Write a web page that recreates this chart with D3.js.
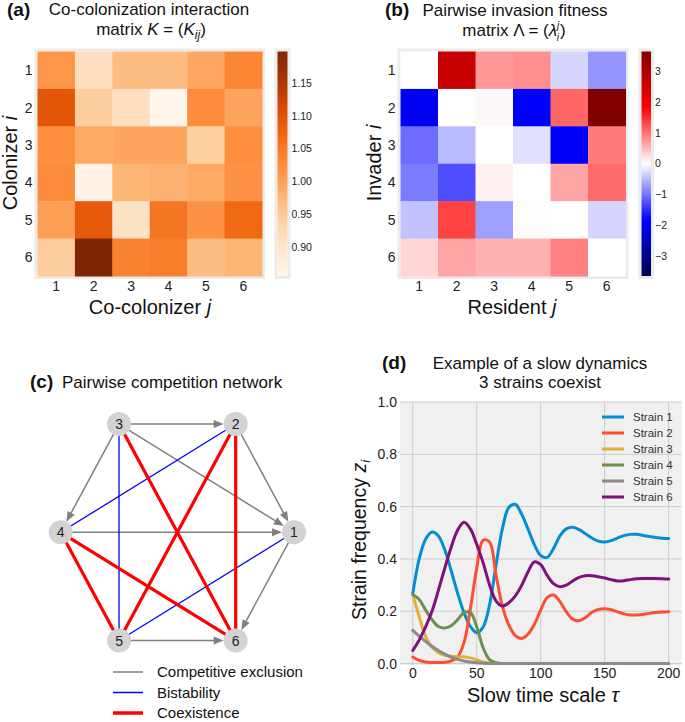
<!DOCTYPE html>
<html>
<head>
<meta charset="utf-8">
<script src="https://cdn.jsdelivr.net/npm/d3@7"></script>
<style>
  body { margin: 0; background: #fff; }
  svg { font-family: "Liberation Sans", Arial, sans-serif; }
</style>
</head>
<body>
<svg id="fig" width="685" height="722"></svg>
<script>
var strains = [1, 2, 3, 4, 5, 6];

// (a) co-colonization interaction matrix, row = colonizer i, col = co-colonizer j
var K = [
  [1.015, 0.914, 0.966, 0.966, 0.993, 1.034],
  [1.095, 0.945, 0.914, 0.856, 1.027, 0.996],
  [1.025, 0.990, 0.995, 0.995, 0.942, 1.025],
  [1.027, 0.865, 0.976, 0.980, 0.990, 1.020],
  [1.003, 1.090, 0.907, 1.054, 1.020, 1.070],
  [0.945, 1.198, 1.040, 1.045, 0.966, 0.976]
];
var kTicks = [0.90, 0.95, 1.00, 1.05, 1.10, 1.15];

// (b) pairwise invasion fitness, row = invader i, col = resident j
var Lambda = [
  [ 0.00,  2.65,  0.74,  0.80, -0.30, -0.76],
  [-1.95,  0.00,  0.05, -1.85,  1.09,  3.65],
  [-1.05, -0.50,  0.00, -0.22, -1.90,  0.94],
  [-0.94, -1.27,  0.10,  0.00,  0.65,  1.05],
  [-0.44,  1.35, -0.69,  0.02,  0.00, -0.30],
  [ 0.30,  0.65,  0.55,  0.55,  0.90,  0.00]
];
var lambdaTicks = [-3, -2, -1, 0, 1, 2, 3];

// (c) legend
var edgeKinds = ["exclusion", "bistability", "coexistence"];
var edgeLabels = ["Competitive exclusion", "Bistability", "Coexistence"];

// (d) slow dynamics
var tau = [0, 5, 10, 15, 20, 25, 30, 35, 40, 45, 50, 55, 60, 65, 70, 75, 80, 85, 90, 95, 100,
  105, 110, 115, 120, 125, 130, 135, 140, 145, 150, 155, 160, 165, 170, 175, 180, 185, 190, 195, 200];
var strain1 = [0.268, 0.40, 0.475, 0.503, 0.488, 0.435, 0.355, 0.27, 0.195, 0.142, 0.118, 0.14, 0.225,
  0.375, 0.515, 0.597, 0.609, 0.572, 0.515, 0.455, 0.413, 0.406, 0.44, 0.488, 0.515, 0.521, 0.512,
  0.496, 0.48, 0.468, 0.465, 0.47, 0.48, 0.489, 0.494, 0.494, 0.49, 0.486, 0.482, 0.479, 0.478];
var strain2 = [0.025, 0.012, 0.006, 0.004, 0.004, 0.005, 0.01, 0.025, 0.08, 0.21, 0.365, 0.472, 0.465,
  0.34, 0.22, 0.148, 0.108, 0.096, 0.112, 0.15, 0.205, 0.252, 0.262, 0.237, 0.198, 0.17, 0.164,
  0.176, 0.196, 0.207, 0.21, 0.206, 0.198, 0.19, 0.186, 0.186, 0.188, 0.192, 0.195, 0.197, 0.198];
var strain3 = [0.264, 0.18, 0.105, 0.062, 0.042, 0.032, 0.028, 0.026, 0.026, 0.022, 0.014, 0.006, 0.002,
  0.0005, 0, 0, 0, 0, 0, 0, 0, 0, 0, 0, 0, 0, 0, 0, 0, 0, 0, 0, 0, 0, 0, 0, 0, 0, 0, 0, 0];
var strain4 = [0.264, 0.245, 0.205, 0.168, 0.142, 0.136, 0.145, 0.168, 0.195, 0.195, 0.14, 0.06, 0.015,
  0.003, 0.0005, 0, 0, 0, 0, 0, 0, 0, 0, 0, 0, 0, 0, 0, 0, 0, 0, 0, 0, 0, 0, 0, 0, 0, 0, 0, 0];
var strain5 = [0.127, 0.105, 0.085, 0.066, 0.05, 0.036, 0.025, 0.016, 0.01, 0.006, 0.003, 0.001, 0,
  0, 0, 0, 0, 0, 0, 0, 0, 0, 0, 0, 0, 0, 0, 0, 0, 0, 0, 0, 0, 0, 0, 0, 0, 0, 0, 0, 0];
var strain6 = [0.05, 0.09, 0.14, 0.2, 0.28, 0.365, 0.445, 0.51, 0.54, 0.515, 0.455, 0.385, 0.3,
  0.24, 0.22, 0.232, 0.258, 0.298, 0.35, 0.389, 0.378, 0.337, 0.306, 0.294, 0.3, 0.316, 0.33,
  0.336, 0.336, 0.332, 0.327, 0.321, 0.316, 0.317, 0.321, 0.324, 0.325, 0.325, 0.325, 0.324, 0.323];
var seriesNames = ["Strain 1", "Strain 2", "Strain 3", "Strain 4", "Strain 5", "Strain 6"];
var seriesValues = [strain1, strain2, strain3, strain4, strain5, strain6];
var tauTicks = [0, 50, 100, 150, 200];
var zTicks = [0.0, 0.2, 0.4, 0.6, 0.8, 1.0];

var colors538 = ["#008fd5", "#fc4f30", "#e5ae38", "#6d904f", "#8b8b8b", "#810f7c"];
var frameColor = "#ebebeb";
var titleSize = 17;

var svg = d3.select("#fig");
var defs = svg.append("defs");

function addText(g, x, y, str, size, opts) {
  opts = opts || {};
  return g.append("text")
    .attr("x", x).attr("y", y)
    .attr("font-size", size)
    .attr("font-weight", opts.bold ? "bold" : null)
    .attr("text-anchor", opts.anchor || "start")
    .attr("fill", opts.fill || "#111")
    .text(str);
}

// heatmap with its colorbar; box = {x0,x1,y0,y1,cbX,cbW}
function heatmap(matrix, color, ticks, box, tickFmt, id) {
  var g = svg.append("g");
  var x = d3.scaleBand().domain(strains).range([box.x0, box.x1]);
  var y = d3.scaleBand().domain(strains).range([box.y0, box.y1]);

  g.append("rect")
    .attr("x", box.x0 - 1.5).attr("y", box.y0 - 1.5)
    .attr("width", box.x1 - box.x0 + 3).attr("height", box.y1 - box.y0 + 3)
    .attr("fill", "none").attr("stroke", frameColor).attr("stroke-width", 3);

  matrix.forEach(function(row, i) {
    g.selectAll(null)
      .data(row)
      .enter().append("rect")
      .attr("x", (d, j) => x(strains[j]))
      .attr("y", y(strains[i]))
      .attr("width", x.bandwidth() + 0.5)
      .attr("height", y.bandwidth() + 0.5)
      .attr("fill", d => color(d));
  });

  g.selectAll(".xt").data(strains).enter().append("text")
    .attr("x", d => x(d) + x.bandwidth() / 2).attr("y", box.y1 + 15)
    .attr("text-anchor", "middle").attr("font-size", 14).attr("fill", "#222")
    .text(d => d);
  g.selectAll(".yt").data(strains).enter().append("text")
    .attr("x", box.x0 - 5).attr("y", d => y(d) + y.bandwidth() / 2)
    .attr("dy", "0.36em")
    .attr("text-anchor", "end").attr("font-size", 14).attr("fill", "#222")
    .text(d => d);

  // colorbar
  var dom = color.domain();
  var lo = dom[0], hi = dom[dom.length - 1];
  var cb = d3.scaleLinear().domain([lo, hi]).range([box.y1, box.y0]);
  var grad = defs.append("linearGradient").attr("id", id)
    .attr("x1", 0).attr("x2", 0).attr("y1", 1).attr("y2", 0);
  d3.range(0, 1.0001, 0.02).forEach(function(f) {
    grad.append("stop").attr("offset", f).attr("stop-color", color(lo + f * (hi - lo)));
  });
  g.append("rect")
    .attr("x", box.cbX - 1.5).attr("y", box.y0 - 1.5)
    .attr("width", box.cbW + 3).attr("height", box.y1 - box.y0 + 3)
    .attr("fill", "none").attr("stroke", frameColor).attr("stroke-width", 3);
  g.append("rect")
    .attr("x", box.cbX).attr("y", box.y0)
    .attr("width", box.cbW).attr("height", box.y1 - box.y0)
    .attr("fill", "url(#" + id + ")");
  g.selectAll(".ct").data(ticks).enter().append("text")
    .attr("x", box.cbX + box.cbW + 4).attr("y", d => cb(d)).attr("dy", "0.35em")
    .attr("font-size", 10.5).attr("fill", "#222")
    .text(tickFmt);
  return g;
}

// ---------- (a) ----------
var kExt = d3.extent(K.flat());
var oranges = d3.scaleLinear()
  .domain(d3.range(9).map(i => kExt[0] + i * (kExt[1] - kExt[0]) / 8))
  .range(d3.schemeOranges[9]);
heatmap(K, oranges, kTicks, {x0: 37.5, x1: 262, y0: 51.5, y1: 276, cbX: 277.5, cbW: 10},
  d3.format(".2f"), "gradK");

addText(svg, 7, 16, "(a)", 19, {bold: true});
addText(svg, 149, 15, "Co-colonization interaction", titleSize, {anchor: "middle"});
var ta = addText(svg, 151, 35, "matrix ", titleSize, {anchor: "middle"});
ta.append("tspan").attr("font-style", "italic").text("K");
ta.append("tspan").text(" = (");
ta.append("tspan").attr("font-style", "italic").text("K");
ta.append("tspan").attr("font-style", "italic").attr("font-size", 12).attr("dy", 4).text("ij");
ta.append("tspan").attr("dy", -4).text(")");

var xa = addText(svg, 150, 314, "Co-colonizer ", 20, {anchor: "middle"});
xa.append("tspan").attr("font-style", "italic").text("j");
var ya = addText(svg, 0, 0, "Colonizer ", 20, {anchor: "middle"})
  .attr("transform", "translate(17,163) rotate(-90)");
ya.append("tspan").attr("font-style", "italic").text("i");

// ---------- (b) ----------
var lMax = d3.max(Lambda.flat(), d => Math.abs(d));
var seismic = d3.scaleLinear()
  .domain([-lMax, -lMax / 2, 0, lMax / 2, lMax])
  .range(["#00004d", "#0000ff", "#ffffff", "#ff0000", "#800000"])
  .clamp(true);
heatmap(Lambda, seismic, lambdaTicks, {x0: 400.5, x1: 625.5, y0: 51.5, y1: 276, cbX: 641.5, cbW: 9.5},
  d => d < 0 ? "\u2212" + Math.abs(d) : d, "gradL");

addText(svg, 385, 16, "(b)", 19, {bold: true});
addText(svg, 515, 16, "Pairwise invasion fitness", titleSize, {anchor: "middle"});
var tb = addText(svg, 514, 36, "matrix \u039b = (", titleSize, {anchor: "middle"});
tb.append("tspan").attr("font-style", "italic").text("\u03bb");
tb.append("tspan").attr("font-style", "italic").attr("font-size", 10).attr("dy", -7).text("j");
tb.append("tspan").attr("font-style", "italic").attr("font-size", 10).attr("dx", -2.5).attr("dy", 12).text("i");
tb.append("tspan").attr("dx", 1).attr("dy", -5).text(")");

var xb = addText(svg, 512, 314, "Resident ", 20, {anchor: "middle"});
xb.append("tspan").attr("font-style", "italic").text("j");
var yb = addText(svg, 0, 0, "Invader ", 20, {anchor: "middle"})
  .attr("transform", "translate(381,163) rotate(-90)");
yb.append("tspan").attr("font-style", "italic").text("i");

// ---------- (c) network built from the signs of Lambda ----------
var edges = [];
for (var i = 0; i < 6; i++) {
  for (var j = i + 1; j < 6; j++) {
    var a = Lambda[i][j], b = Lambda[j][i];
    if (a > 0 && b > 0) edges.push({s: i, t: j, kind: "coexistence"});
    else if (a < 0 && b < 0) edges.push({s: i, t: j, kind: "bistability"});
    else if (a > 0) edges.push({s: j, t: i, kind: "exclusion"}); // arrow loser -> winner
    else edges.push({s: i, t: j, kind: "exclusion"});
  }
}
var edgeStyle = {
  exclusion:   {stroke: "#808080", width: 1.5},
  bistability: {stroke: "#0000ff", width: 1.3},
  coexistence: {stroke: "#ff0000", width: 3.2}
};

// circular layout, node k at angle 2*pi*k/6
var nx = d3.scaleLinear().domain([-1, 1]).range([60.7, 294]);
var ny = d3.scaleLinear().domain([-1, 1]).range([657.3, 407.3]);
var nodes = strains.map((s, k) => ({id: s, x: nx(Math.cos(2 * Math.PI * k / 6)), y: ny(Math.sin(2 * Math.PI * k / 6))}));
var nodeR = 12;

var gc = svg.append("g");
edgeKinds.forEach(function(kind) {
  edges.filter(e => e.kind === kind).forEach(function(e) {
    var p = nodes[e.s], q = nodes[e.t];
    var dx = q.x - p.x, dy = q.y - p.y, len = Math.sqrt(dx * dx + dy * dy);
    var ux = dx / len, uy = dy / len;
    var st = edgeStyle[kind];
    if (kind === "exclusion") {
      var tipX = q.x - ux * nodeR, tipY = q.y - uy * nodeR;
      var baseX = tipX - ux * 10, baseY = tipY - uy * 10;
      gc.append("line")
        .attr("x1", p.x).attr("y1", p.y).attr("x2", baseX + ux * 2).attr("y2", baseY + uy * 2)
        .attr("stroke", st.stroke).attr("stroke-width", st.width);
      gc.append("path")
        .attr("d", "M" + tipX + "," + tipY +
          "L" + (baseX - uy * 4) + "," + (baseY + ux * 4) +
          "L" + (baseX + uy * 4) + "," + (baseY - ux * 4) + "Z")
        .attr("fill", st.stroke);
    } else {
      gc.append("line")
        .attr("x1", p.x).attr("y1", p.y).attr("x2", q.x).attr("y2", q.y)
        .attr("stroke", st.stroke).attr("stroke-width", st.width);
    }
  });
});
gc.selectAll("circle").data(nodes).enter().append("circle")
  .attr("cx", d => d.x).attr("cy", d => d.y).attr("r", nodeR)
  .attr("fill", "#d3d3d3");
gc.selectAll(".nl").data(nodes).enter().append("text")
  .attr("x", d => d.x).attr("y", d => d.y).attr("dy", "0.36em")
  .attr("text-anchor", "middle").attr("font-size", 14).attr("fill", "#222")
  .text(d => d.id);

addText(svg, 30, 388, "(c)", 19, {bold: true});
addText(svg, 62, 388, "Pairwise competition network", titleSize);

var lc = svg.append("g");
edgeKinds.forEach(function(kind, k) {
  var yy = 672 + k * 20.5;
  lc.append("line").attr("x1", 113).attr("x2", 143).attr("y1", yy).attr("y2", yy)
    .attr("stroke", edgeStyle[kind].stroke)
    .attr("stroke-width", kind === "coexistence" ? 3.5 : 1.5);
  addText(lc, 157, yy, edgeLabels[k], 15).attr("dy", "0.36em");
});

// ---------- (d) ----------
var x = d3.scaleLinear().domain([-10, 210]).range([400, 681.5]);
var y = d3.scaleLinear().domain([0, 1]).range([663.6, 402]);
var gd = svg.append("g");
gd.append("rect")
  .attr("x", x(-10)).attr("y", y(1)).attr("width", x(210) - x(-10)).attr("height", y(0) - y(1) + 1.5)
  .attr("fill", "#f0f0f0");
gd.selectAll(".vg").data(tauTicks).enter().append("line")
  .attr("x1", d => x(d)).attr("x2", d => x(d)).attr("y1", y(1)).attr("y2", y(0) + 1.5)
  .attr("stroke", "#cbcbcb").attr("stroke-width", 1);
gd.selectAll(".hg").data(zTicks).enter().append("line")
  .attr("x1", x(-10)).attr("x2", x(210)).attr("y1", d => y(d)).attr("y2", d => y(d))
  .attr("stroke", "#cbcbcb").attr("stroke-width", 1);

defs.append("clipPath").attr("id", "clipD").append("rect")
  .attr("x", x(-10)).attr("y", y(1)).attr("width", x(210) - x(-10)).attr("height", y(0) - y(1) + 1.5);

var line = d3.line().x((d, k) => x(tau[k])).y(d => y(d)).curve(d3.curveCatmullRom);
var lines = gd.append("g").attr("clip-path", "url(#clipD)");
seriesValues.forEach(function(vals, k) {
  lines.append("path").attr("d", line(vals))
    .attr("fill", "none").attr("stroke", colors538[k]).attr("stroke-width", 3)
    .attr("stroke-linejoin", "round").attr("stroke-linecap", "round");
});

gd.selectAll(".xtd").data(tauTicks).enter().append("text")
  .attr("x", d => x(d)).attr("y", 678).attr("text-anchor", "middle")
  .attr("font-size", 14).attr("fill", "#222").text(d => d);
gd.selectAll(".ytd").data(zTicks).enter().append("text")
  .attr("x", 397).attr("y", d => y(d)).attr("dy", "0.36em").attr("text-anchor", "end")
  .attr("font-size", 14).attr("fill", "#222").text(d3.format(".1f"));

// legend
seriesNames.forEach(function(name, k) {
  var yy = 417 + k * 16;
  gd.append("line").attr("x1", 602).attr("x2", 624).attr("y1", yy).attr("y2", yy)
    .attr("stroke", colors538[k]).attr("stroke-width", 3);
  addText(gd, 633, yy, name, 11.5, {fill: "#333"}).attr("dy", "0.36em");
});

addText(svg, 382, 369, "(d)", 19, {bold: true});
addText(svg, 540, 369, "Example of a slow dynamics", titleSize, {anchor: "middle"});
addText(svg, 540, 388, "3 strains coexist", titleSize, {anchor: "middle"});

var xd = addText(svg, 543, 702, "Slow time scale ", 20, {anchor: "middle"});
xd.append("tspan").attr("font-style", "italic").text("\u03c4");
var yd = addText(svg, 0, 0, "Strain frequency ", 19.5, {anchor: "middle"})
  .attr("transform", "translate(366,540) rotate(-90)");
yd.append("tspan").attr("font-style", "italic").text("z");
yd.append("tspan").attr("font-style", "italic").attr("font-size", 13).attr("dy", 4).text("i");
</script>
</body>
</html>
